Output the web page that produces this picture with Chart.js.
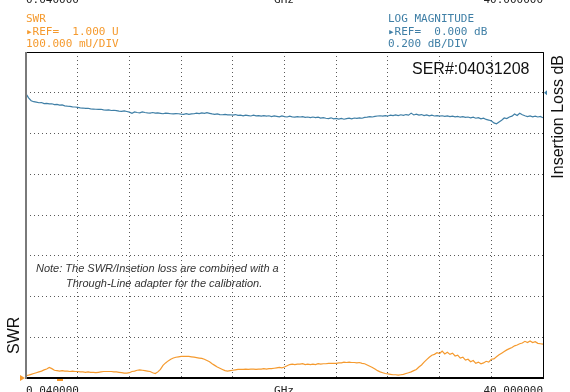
<!DOCTYPE html>
<html>
<head>
<meta charset="utf-8">
<script src="https://cdn.jsdelivr.net/npm/chart.js@4.4.1/dist/chart.umd.min.js"></script>
<style>
  html, body { margin: 0; padding: 0; background: #fff; }
  #wrap { width: 570px; height: 392px; }
</style>
</head>
<body>
<div id="wrap"><canvas id="trace" width="570" height="392"></canvas></div>
<script>
// sweep: 201 points, linear from start to stop
const START_GHZ = 0.04;
const STOP_GHZ = 40;

// channel 1: SWR (1.000 U ref, 0.1 U/div)
const swrValues = [
  1.006, 1.007, 1.009, 1.011, 1.013, 1.015, 1.017, 1.020, 1.022, 1.026,
  1.023, 1.019, 1.018, 1.017, 1.018, 1.017, 1.017, 1.016, 1.017, 1.016,
  1.016, 1.015, 1.015, 1.014, 1.015, 1.014, 1.014, 1.013, 1.014, 1.015,
  1.016, 1.016, 1.016, 1.016, 1.015, 1.015, 1.014, 1.013, 1.012, 1.012,
  1.013, 1.016, 1.017, 1.019, 1.020, 1.019, 1.018, 1.017, 1.016, 1.013,
  1.011, 1.015, 1.021, 1.031, 1.037, 1.042, 1.046, 1.049, 1.051, 1.052,
  1.053, 1.053, 1.053, 1.053, 1.052, 1.051, 1.050, 1.049, 1.048, 1.046,
  1.043, 1.040, 1.035, 1.031, 1.027, 1.024, 1.021, 1.018, 1.017, 1.018,
  1.019, 1.020, 1.021, 1.021, 1.021, 1.022, 1.021, 1.022, 1.022, 1.021,
  1.022, 1.022, 1.023, 1.022, 1.023, 1.023, 1.024, 1.025, 1.026, 1.025,
  1.027, 1.030, 1.033, 1.034, 1.033, 1.034, 1.034, 1.035, 1.033, 1.034,
  1.033, 1.034, 1.033, 1.035, 1.034, 1.035, 1.035, 1.036, 1.036, 1.036,
  1.036, 1.037, 1.037, 1.039, 1.038, 1.039, 1.038, 1.038, 1.037, 1.038,
  1.036, 1.035, 1.032, 1.029, 1.026, 1.022, 1.018, 1.015, 1.013, 1.011,
  1.010, 1.009, 1.008, 1.008, 1.007, 1.008, 1.009, 1.011, 1.013, 1.015,
  1.018, 1.021, 1.027, 1.032, 1.039, 1.045, 1.051, 1.056, 1.058, 1.062,
  1.060, 1.066, 1.059, 1.063, 1.058, 1.061, 1.054, 1.056, 1.049, 1.051,
  1.044, 1.046, 1.040, 1.043, 1.036, 1.039, 1.035, 1.037, 1.041, 1.039,
  1.046, 1.047, 1.052, 1.057, 1.061, 1.065, 1.069, 1.072, 1.075, 1.079,
  1.081, 1.084, 1.086, 1.090, 1.087, 1.091, 1.087, 1.089, 1.085, 1.084,
  1.083
];

// channel 2: insertion loss, log magnitude (0.000 dB ref, 0.2 dB/div)
const insertionLossDb = [
  -0.005, -0.025, -0.039, -0.044, -0.046, -0.049, -0.048, -0.053, -0.052, -0.055,
  -0.054, -0.058, -0.057, -0.061, -0.060, -0.064, -0.066, -0.067, -0.069, -0.070,
  -0.072, -0.074, -0.075, -0.077, -0.076, -0.079, -0.080, -0.081, -0.082, -0.081,
  -0.084, -0.085, -0.084, -0.087, -0.086, -0.088, -0.090, -0.091, -0.089, -0.092,
  -0.095, -0.101, -0.094, -0.097, -0.099, -0.094, -0.097, -0.099, -0.100, -0.097,
  -0.100, -0.099, -0.101, -0.103, -0.100, -0.101, -0.103, -0.104, -0.102, -0.103,
  -0.105, -0.106, -0.103, -0.106, -0.104, -0.103, -0.100, -0.102, -0.099, -0.101,
  -0.098, -0.101, -0.104, -0.106, -0.104, -0.107, -0.108, -0.106, -0.109, -0.108,
  -0.110, -0.107, -0.111, -0.110, -0.113, -0.110, -0.112, -0.114, -0.110, -0.113,
  -0.112, -0.115, -0.112, -0.115, -0.113, -0.117, -0.114, -0.116, -0.118, -0.114,
  -0.117, -0.119, -0.115, -0.118, -0.120, -0.117, -0.119, -0.117, -0.121, -0.119,
  -0.122, -0.119, -0.122, -0.120, -0.124, -0.122, -0.125, -0.127, -0.123, -0.128,
  -0.126, -0.129, -0.126, -0.130, -0.127, -0.125, -0.128, -0.124, -0.126, -0.123,
  -0.125, -0.121, -0.120, -0.117, -0.119, -0.116, -0.114, -0.113, -0.115, -0.112,
  -0.114, -0.110, -0.112, -0.109, -0.112, -0.108, -0.111, -0.107, -0.110, -0.100,
  -0.109, -0.105, -0.110, -0.107, -0.112, -0.109, -0.113, -0.110, -0.114, -0.112,
  -0.115, -0.113, -0.116, -0.114, -0.117, -0.115, -0.118, -0.116, -0.120, -0.117,
  -0.121, -0.119, -0.123, -0.120, -0.125, -0.122, -0.128, -0.125, -0.131, -0.134,
  -0.138, -0.148, -0.152, -0.143, -0.135, -0.124, -0.127, -0.119, -0.115, -0.104,
  -0.112, -0.101, -0.108, -0.113, -0.117, -0.114, -0.118, -0.115, -0.119, -0.116,
  -0.123
];

// scale settings shown on screen
const swrRef = 1.0, swrPerDiv = 0.1;
const lossRef = 0.0, lossPerDiv = 0.2, lossRefDiv = 1; // ref line one division below top
const DIVS_X = 10, DIVS_Y = 8;

const ch1Lines = ['SWR', '\u25B8REF=  1.000 U', '100.000 mU/DIV'];
const ch2Lines = ['LOG MAGNITUDE', '\u25B8REF=  0.000 dB', '0.200 dB/DIV'];
const freqLabels = ['0.040000', 'GHz', '40.000000'];
const serialText = 'SER#:04031208';
const noteLines = [
  'Note: The SWR/Insetion loss are combined with a',
  'Through-Line adapter for the calibration.'
];

const ORANGE = '#f59a2e';
const BLUE = '#3f7fa6';
const MONO = "11px 'DejaVu Sans Mono', monospace";

const sweep = (n) => swrValues.map((_, i) => START_GHZ + (STOP_GHZ - START_GHZ) * i / (n - 1));
const freqs = sweep(swrValues.length);

const evenTicks = (min, max, n) => (scale) => {
  scale.ticks = [];
  for (let k = 0; k <= n; k++) scale.ticks.push({ value: min + (max - min) * k / n });
};

const lossTop = lossRef + lossRefDiv * lossPerDiv;
const lossBottom = lossTop - DIVS_Y * lossPerDiv;

// frame, annotations and header text
const annotate = {
  id: 'annotate',
  afterDraw(chart) {
    const { ctx, chartArea: a } = chart;
    ctx.save();

    // frame
    ctx.strokeStyle = '#000';
    ctx.lineWidth = 1;
    ctx.beginPath();
    ctx.moveTo(a.left, a.top + 0.5);
    ctx.lineTo(a.right + 0.5, a.top + 0.5);
    ctx.lineTo(a.right + 0.5, a.bottom);
    ctx.stroke();
    ctx.lineWidth = 2;
    ctx.beginPath();
    ctx.moveTo(a.left, a.bottom);
    ctx.lineTo(a.right + 1, a.bottom);
    ctx.stroke();
    ctx.strokeStyle = '#7a7a7a';
    ctx.beginPath();
    ctx.moveTo(a.left, a.top);
    ctx.lineTo(a.left, a.bottom + 1);
    ctx.stroke();

    // reference markers
    const ySwrRef = chart.scales.y.getPixelForValue(swrRef);
    ctx.fillStyle = ORANGE;
    ctx.beginPath();
    ctx.moveTo(a.left - 6, ySwrRef - 3);
    ctx.lineTo(a.left - 1, ySwrRef);
    ctx.lineTo(a.left - 6, ySwrRef + 3);
    ctx.fill();
    ctx.fillRect(a.left + 31, a.bottom + 1, 6, 2);

    const yLossRef = chart.scales.y2.getPixelForValue(lossRef);
    ctx.fillStyle = BLUE;
    ctx.beginPath();
    ctx.moveTo(a.right + 1, yLossRef);
    ctx.lineTo(a.right + 4, yLossRef - 2.5);
    ctx.lineTo(a.right + 4, yLossRef + 2.5);
    ctx.fill();

    // channel headers
    ctx.font = MONO;
    ctx.textBaseline = 'alphabetic';
    ctx.fillStyle = ORANGE;
    ch1Lines.forEach((t, i) => ctx.fillText(t, 26, 22 + i * 12.5));
    ctx.fillStyle = BLUE;
    ch2Lines.forEach((t, i) => ctx.fillText(t, 388, 22 + i * 12.5));

    // frequency labels of the panel above (clipped) and of this panel
    ctx.fillStyle = '#222';
    ctx.textAlign = 'left';
    ctx.fillText(freqLabels[0], 26, 3);
    ctx.fillText(freqLabels[0], 26, 394);
    ctx.textAlign = 'center';
    ctx.fillText(freqLabels[1], 284, 3);
    ctx.fillText(freqLabels[1], 284, 394);
    ctx.textAlign = 'right';
    ctx.fillText(freqLabels[2], 543, 3);
    ctx.fillText(freqLabels[2], 543, 394);

    // serial number
    ctx.font = "16px 'Liberation Sans', Arial, sans-serif";
    ctx.fillStyle = '#111';
    ctx.textAlign = 'left';
    ctx.fillText(serialText, 412, 74);

    // axis names
    ctx.save();
    ctx.translate(563, 55);
    ctx.rotate(-Math.PI / 2);
    ctx.textAlign = 'right';
    ctx.fillText('Insertion Loss dB', 0, 0);
    ctx.restore();
    ctx.save();
    ctx.translate(19, 354);
    ctx.rotate(-Math.PI / 2);
    ctx.textAlign = 'left';
    ctx.fillText('SWR', 0, 0);
    ctx.restore();

    // note
    ctx.font = "italic 11px 'Liberation Sans', Arial, sans-serif";
    ctx.fillStyle = '#333';
    ctx.textAlign = 'left';
    ctx.fillText(noteLines[0], 36, 272);
    ctx.fillText(noteLines[1], 66, 287);

    ctx.restore();
  }
};

const gridCommon = {
  color: '#5a5a5a',
  lineWidth: 1,
  drawTicks: false
};

new Chart(document.getElementById('trace'), {
  type: 'line',
  data: {
    datasets: [
      {
        label: 'SWR',
        data: freqs.map((f, i) => ({ x: f, y: swrValues[i] })),
        yAxisID: 'y',
        borderColor: ORANGE,
        borderWidth: 1.2,
        pointRadius: 0,
        tension: 0
      },
      {
        label: 'Insertion Loss dB',
        data: freqs.map((f, i) => ({ x: f, y: insertionLossDb[i] })),
        yAxisID: 'y2',
        borderColor: BLUE,
        borderWidth: 1.2,
        pointRadius: 0,
        tension: 0
      }
    ]
  },
  options: {
    responsive: false,
    animation: false,
    devicePixelRatio: 1,
    layout: { padding: { left: 26, right: 27, top: 52, bottom: 14 } },
    plugins: {
      legend: { display: false },
      tooltip: { enabled: false }
    },
    scales: {
      x: {
        type: 'linear',
        min: START_GHZ,
        max: STOP_GHZ,
        afterBuildTicks: evenTicks(START_GHZ, STOP_GHZ, DIVS_X),
        ticks: { display: false },
        grid: gridCommon,
        border: { display: false, dash: [1, 3] }
      },
      y: {
        type: 'linear',
        position: 'left',
        min: swrRef,
        max: swrRef + DIVS_Y * swrPerDiv,
        afterBuildTicks: evenTicks(swrRef, swrRef + DIVS_Y * swrPerDiv, DIVS_Y),
        ticks: { display: false },
        grid: gridCommon,
        border: { display: false, dash: [1, 3] }
      },
      y2: {
        type: 'linear',
        position: 'right',
        display: false,
        min: lossBottom,
        max: lossTop
      }
    }
  },
  plugins: [annotate]
});
</script>
</body>
</html>
